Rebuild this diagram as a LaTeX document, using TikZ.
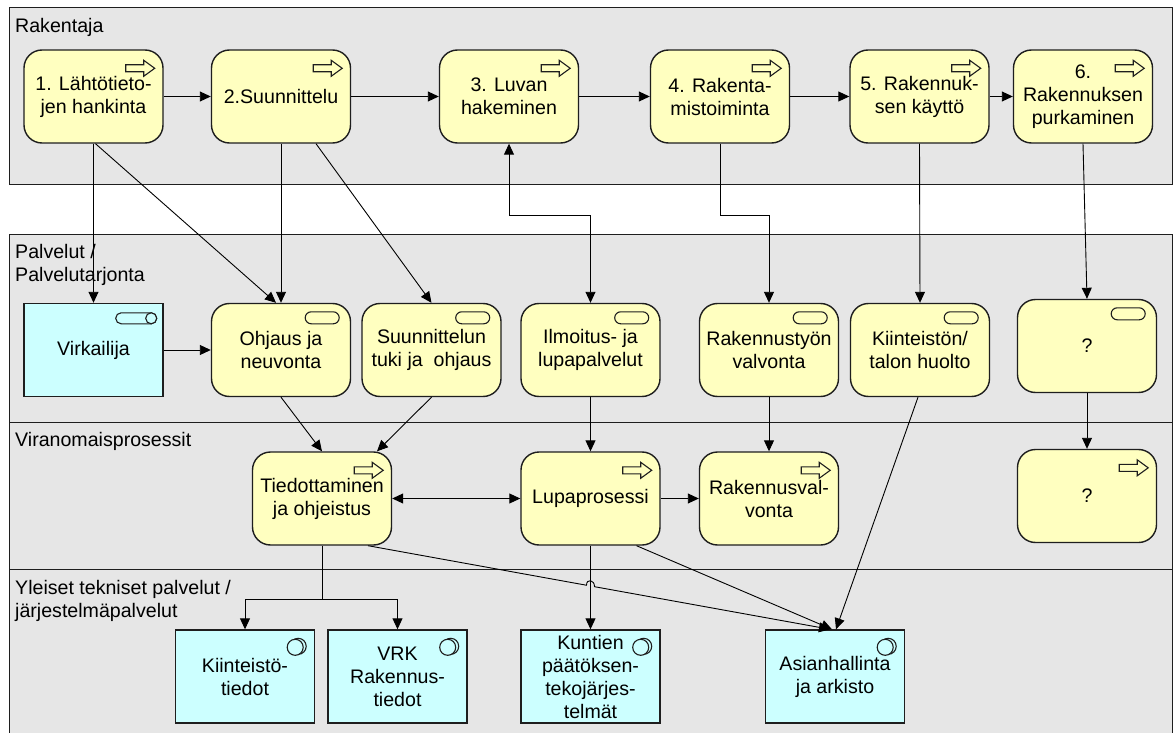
\documentclass[tikz,border=0pt]{standalone}
\usepackage{fontspec}
\setmainfont{Liberation Sans}
\usetikzlibrary{arrows.meta,calc}
\definecolor{bandgray}{RGB}{230,230,230}
\definecolor{procyellow}{RGB}{255,255,192}
\definecolor{appcyan}{RGB}{204,255,255}
\definecolor{edgecol}{RGB}{30,30,30}
\begin{document}
\begin{tikzpicture}[x=1pt,y=-1pt,
  every node/.style={font=\fontsize{19.6}{23}\selectfont, inner sep=0pt},
  band/.style={draw=edgecol, fill=bandgray, line width=1pt},
  lbl/.style={anchor=west, align=left},
  ybox/.style={draw=edgecol, fill=procyellow, rounded corners=18pt, line width=1.4pt, minimum width=139pt, minimum height=93pt, align=center},
  cbox/.style={draw=edgecol, fill=appcyan, line width=1.4pt, minimum width=139pt, minimum height=93pt, align=center},
  iconline/.style={draw=edgecol, line width=1.1pt},
  conn/.style={draw=black, line width=0.9pt},
  arr/.style={conn, -{Triangle[length=11pt,width=10pt]}},
  darr/.style={conn, {Triangle[length=11pt,width=10pt]}-{Triangle[length=11pt,width=10pt]}},
  procicon/.pic={\draw[iconline, fill=procyellow] (0,-3.5) -- (18,-3.5) -- (18,-8) -- (29,0) -- (18,8) -- (18,3.5) -- (0,3.5) -- cycle;},
  servicon/.pic={\draw[iconline, fill=procyellow, rounded corners=6pt] (0,0) rectangle (34,12);},
  roleicon/.pic={\draw[iconline, fill=appcyan, rounded corners=5.5pt] (0,0) rectangle (41,11);
                 \draw[iconline, fill=appcyan] (35.5,5.5) circle[radius=5.5];},
  sysicon/.pic={\draw[iconline, fill=appcyan] (3,-1) circle[radius=8];
                \draw[iconline, fill=appcyan] (0,0) circle[radius=8];}
]
\useasboundingbox (0,0) rectangle (1176,733);
\fill[white] (0,0) rectangle (1176,733);

% bands
\draw[band] (9,8) rectangle (1172,185);
\draw[band] (9,234) rectangle (1172,422);
\draw[band] (9,422) rectangle (1172,569);
\draw[band] (9,569) rectangle (1172,745);

\node[lbl] (l1) at (15,27) {Rakentaja};
\node[lbl] (l2) at (15,265) {Palvelut /\\Palvelutarjonta};
\node[lbl] (l3) at (15,441) {Viranomaisprosessit};
\node[lbl] (l4) at (15,601) {Yleiset tekniset palvelut /\\järjestelmäpalvelut};

% top row
\node[ybox] (b1) at (93.5,96.5) {1. Lähtötieto-\\jen hankinta};
\node[ybox] (b2) at (281,96.5) {2.Suunnittelu};
\node[ybox] (b3) at (509,96.5) {3. Luvan\\hakeminen};
\node[ybox] (b4) at (720,96.5) {4. Rakenta-\\mistoiminta};
\node[ybox] (b5) at (919.5,96.5) {5. Rakennuk-\\sen käyttö};
\node[ybox] (b6) at (1083,96.5) {6.\\Rakennuksen\\purkaminen};

% services
\node[cbox] (virk) at (93.5,350) {Virkailija};
\node[ybox] (ohj) at (281,350) {Ohjaus ja\\neuvonta};
\node[ybox] (sunt) at (431.5,350) {Suunnittelun\\tuki ja\ \ ohjaus};
\node[ybox] (ilm) at (590.5,350) {Ilmoitus- ja\\lupapalvelut};
\node[ybox] (rakt) at (769,350) {Rakennustyön\\valvonta};
\node[ybox] (kiin) at (920,350) {Kiinteistön/\\talon huolto};
\node[ybox] (q1) at (1087,346) {?};

% authority processes
\node[ybox] (tied) at (322,498.5) {Tiedottaminen\\ja ohjeistus};
\node[ybox] (lupa) at (590.5,498.5) {Lupaprosessi};
\node[ybox] (rakv) at (769,498.5) {Rakennusval-\\vonta};
\node[ybox] (q2) at (1087,496) {?};

% systems
\node[cbox] (kiit) at (245,676.5) {Kiinteistö-\\tiedot};
\node[cbox] (vrk) at (397.5,676.5) {VRK\\Rakennus-\\tiedot};
\node[cbox] (kunt) at (590.5,676.5) {Kuntien\\päätöksen-\\tekojärjes-\\telmät};
\node[cbox] (asia) at (835,676.5) {Asianhallinta\\ja arkisto};

% icons
\foreach \n in {b1,b2,b3,b4,b5,b6,tied,lupa,rakv,q2}
  \pic at ([shift={(-38,19)}]\n.north east) {procicon};
\foreach \n in {ohj,sunt,ilm,rakt,kiin,q1}
  \pic at ([shift={(-46,9)}]\n.north east) {servicon};
\pic at ([shift={(-48,10)}]virk.north east) {roleicon};
\foreach \n in {kiit,vrk,kunt,asia}
  \pic at ([shift={(-20,18)}]\n.north east) {sysicon};

% connectors
\coordinate (lane) at (0,215);
\coordinate (lane2) at (0,599);
\draw[arr] (b1) -- (b2);
\draw[arr] (b2) -- (b3);
\draw[arr] (b3) -- (b4);
\draw[arr] (b4) -- (b5);
\draw[arr] (b5) -- (b6);

\draw[arr] (b1.south) -- (virk.north);
\draw[arr] ($(b1.south)+(2,0)$) -- ($(ohj.north)+(-5,0)$);
\draw[arr] (b2.south) -- (ohj.north);
\draw[arr] ($(b2.south)+(35,0)$) -- (sunt.north);
\draw[darr] (b3.south) -- (b3.south |- lane) -| (ilm.north);
\draw[arr] (b4.south) -- (b4.south |- lane) -| (rakt.north);
\draw[arr] (b5.south) -- (kiin.north);
\draw[arr] (b6.south) -- (q1.north);
\draw[arr] (virk.east) -- (ohj.west);
\draw[arr] (ohj.south) -- (tied.north);
\draw[arr] (sunt.south) -- ($(tied.north)+(55,0)$);
\draw[arr] (ilm.south) -- (lupa.north);
\draw[arr] (rakt.south) -- (rakv.north);
\draw[arr] ($(kiin.south)+(-2,0)$) -- ($(asia.north)+(1,0)$);
\draw[arr] (q1.south) -- (q2.north);
\draw[darr] (tied.east) -- (lupa.west);
\draw[arr] (lupa.east) -- (rakv.west);

\coordinate (fork) at (tied.south |- lane2);
\draw[conn] (tied.south) -- (fork);
\draw[arr] (fork) -| (kiit.north);
\draw[arr] (fork) -| (vrk.north);
\draw[arr] (lupa.south) -- (kunt.north);
\draw[arr] ($(lupa.south)+(46,0)$) -- ($(asia.north)+(-3,0)$);

\coordinate (ts) at ($(tied.south)+(46,0)$);
\coordinate (te) at ($(asia.north)+(-5,0)$);
\coordinate (h1) at ($(ts)!0.4729!(te)$);
\coordinate (h2) at ($(ts)!0.4903!(te)$);
\draw[arr] (ts) -- (h1) .. controls +(0,-7) and +(0,-7) .. (h2) -- (te);
\end{tikzpicture}
\end{document}
